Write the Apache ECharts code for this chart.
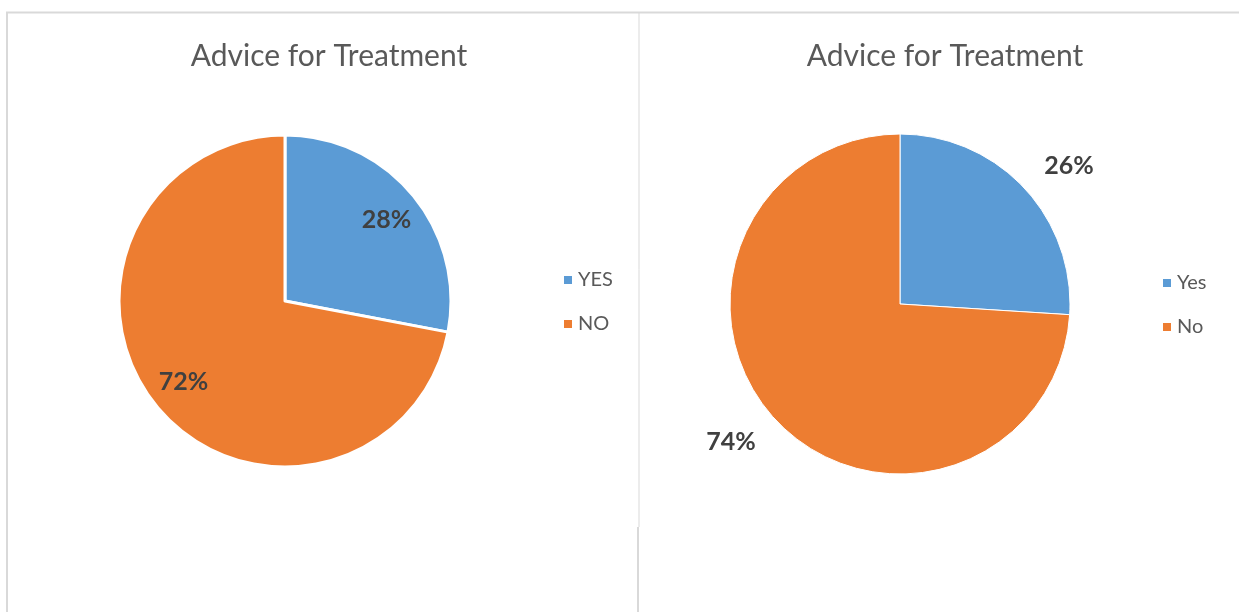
<!DOCTYPE html>
<html><head><meta charset="utf-8">
<script src="https://cdn.jsdelivr.net/npm/echarts@6/dist/echarts.min.js"></script>
<style>html,body{margin:0;padding:0;background:#fff}#c{width:1239px;height:612px}</style>
</head><body><div id="c"></div>
<script>
const title = 'Advice for Treatment';
const leftCategories = ['YES', 'NO'];
const leftValues = [28, 72];
const rightCategories = ['Yes', 'No'];
const rightValues = [26, 74];
const colors = ['#5B9BD5', '#ED7D31'];

const FONT = 'Lato';
const chart = echarts.init(document.getElementById('c'));

function dataOf(cats, vals) {
  return cats.map((c, i) => ({ name: c, value: vals[i], itemStyle: { color: colors[i] } }));
}
function pieSeries(cats, vals, center, radius, bw) {
  return {
    type: 'pie', center: center, radius: radius, startAngle: 90, clockwise: true,
    silent: true, animation: false,
    itemStyle: { borderColor: '#fff', borderWidth: bw },
    label: { show: false }, labelLine: { show: false },
    emphasis: { disabled: true },
    data: dataOf(cats, vals)
  };
}
function labelSeries(cats, vals, center, radius, startAngle) {
  return {
    type: 'pie', center: center, radius: radius, startAngle: startAngle, clockwise: true,
    silent: true, animation: false,
    itemStyle: { color: 'transparent', borderWidth: 0 },
    label: { show: true, position: 'inside', formatter: '{c}%', fontFamily: FONT,
             fontSize: 25, fontWeight: 'bold', color: '#404040' },
    labelLine: { show: false },
    emphasis: { disabled: true },
    data: cats.map((c, i) => ({ name: c, value: vals[i], itemStyle: { color: 'transparent' } }))
  };
}

chart.setOption({
  animation: false,
  title: [
    { text: title, left: 324, top: 36, textAlign: 'center',
      textStyle: { fontFamily: FONT, fontSize: 30, fontWeight: 'normal', color: '#595959' } },
    { text: title, left: 940, top: 36, textAlign: 'center',
      textStyle: { fontFamily: FONT, fontSize: 30, fontWeight: 'normal', color: '#595959' } }
  ],
  legend: [
    { data: leftCategories, orient: 'vertical', left: 557, top: 265, itemWidth: 10, itemHeight: 10,
      itemGap: 24, icon: 'rect', selectedMode: false,
      textStyle: { fontFamily: FONT, fontSize: 20, color: '#595959' } },
    { data: rightCategories, orient: 'vertical', left: 1156, top: 268, itemWidth: 10, itemHeight: 10,
      itemGap: 24, icon: 'rect', selectedMode: false,
      textStyle: { fontFamily: FONT, fontSize: 20, color: '#595959' } }
  ],
  graphic: [
    { type: 'line', shape: { x1: 6, y1: 12.5, x2: 1239, y2: 12.5 }, style: { stroke: '#d9d9d9', lineWidth: 2 }, silent: true },
    { type: 'line', shape: { x1: 7, y1: 12, x2: 7, y2: 612 }, style: { stroke: '#d9d9d9', lineWidth: 2 }, silent: true },
    { type: 'line', shape: { x1: 639, y1: 12, x2: 639, y2: 527 }, style: { stroke: '#d9d9d9', lineWidth: 1 }, silent: true },
    { type: 'line', shape: { x1: 638, y1: 527, x2: 638, y2: 612 }, style: { stroke: '#d9d9d9', lineWidth: 2 }, silent: true }
  ],
  series: [
    pieSeries(leftCategories, leftValues, [285, 301], 166, 3),
    pieSeries(rightCategories, rightValues, [900, 304], 170, 1),
    labelSeries(leftCategories, leftValues, [285, 301], 254, 89),
    labelSeries(rightCategories, rightValues, [900, 304], 430, 86)
  ]
});
</script></body></html>
